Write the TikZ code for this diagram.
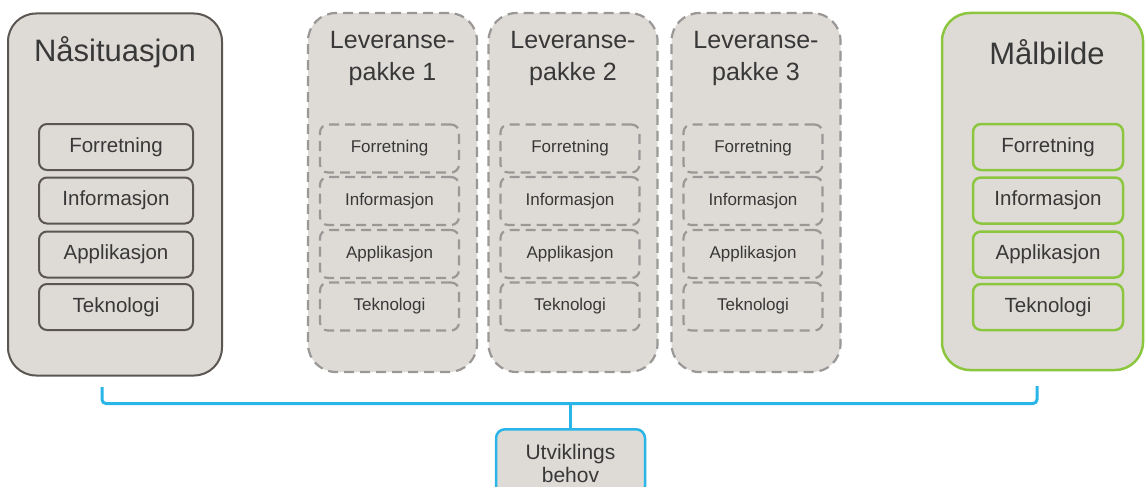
\documentclass[tikz,border=0pt]{standalone}
\usepackage{fontspec}
\setmainfont{Liberation Sans}
\definecolor{boxfill}{HTML}{DEDBD6}
\definecolor{darkline}{HTML}{5B5651}
\definecolor{dashline}{HTML}{9A9896}
\definecolor{greenline}{HTML}{8CC63F}
\definecolor{blueline}{HTML}{29B5E8}
\definecolor{txt}{HTML}{383838}
\tikzset{
  outerbox/.style={draw, fill=boxfill, rounded corners=28pt, minimum width=#1, minimum height=362pt, inner sep=0pt},
  layerbox/.style={draw, rounded corners=8pt, minimum height=46pt, inner sep=0pt, text=txt},
  dashbox/.style={draw=dashline, dash pattern=on 10pt off 6pt, line width=2.2pt},
  titletxt/.style={text=txt, align=center},
}
\begin{document}
\begin{tikzpicture}[x=1pt, y=-1pt]
\useasboundingbox (0,0) rectangle (1146,487);
\clip (0,0) rectangle (1146,487);

% Nasituasjon
\node[outerbox=214pt, draw=darkline, line width=2pt] (now) at (115,194.5) {};
\node[titletxt, font=\fontsize{31}{36}\selectfont] (nowt) at (115,52) {Nåsituasjon};
\foreach \t/\y/\n in {Forretning/147/a, Informasjon/200.5/b, Applikasjon/254.5/c, Teknologi/307/d}{
  \node[layerbox, draw=darkline, line width=2pt, minimum width=154pt, font=\fontsize{20.5}{24}\selectfont] (now\n) at (116,\y) {\t};
}

% Leveransepakker
\foreach \i/\x in {1/392.5, 2/573, 3/756}{
  \node[outerbox=169pt, dashbox, fill=boxfill, minimum height=359pt] (lp\i) at (\x,192.5) {};
  \node[titletxt, font=\fontsize{25}{32}\selectfont] (lpt\i) at (\x,58) {Leveranse-\\pakke \i};
  \foreach \t/\y/\n in {Forretning/148.5/a, Informasjon/201/b, Applikasjon/254/c, Teknologi/306.5/d}{
    \node[layerbox, dashbox, minimum width=139pt, minimum height=48pt, font=\fontsize{17}{20}\selectfont] (lp\i\n) at (\x-3,\y) {\t};
  }
}

% Malbilde
\node[outerbox=201pt, draw=greenline, line width=2.5pt, minimum height=357pt] (goal) at (1042.5,191.5) {};
\node[titletxt, font=\fontsize{31}{36}\selectfont] (goalt) at (1047,52) {Målbilde};
\foreach \t/\y/\n in {Forretning/147/a, Informasjon/200.5/b, Applikasjon/254.5/c, Teknologi/307/d}{
  \node[layerbox, draw=greenline, line width=2.5pt, minimum width=150pt, font=\fontsize{20.5}{24}\selectfont] (goal\n) at (1048,\y) {\t};
}

% Utviklingsbehov
\node[draw=blueline, line width=2.5pt, fill=boxfill, rounded corners=9pt, minimum width=149pt, minimum height=66pt, anchor=north, inner sep=0pt] (dev) at (570.5,428) {};
\node[titletxt, font=\fontsize{21}{23}\selectfont] (devt) at (570.5,463) {Utviklings\\behov};

% bracket
\coordinate (bl) at (102,387);
\coordinate (br) at (1037,386);
\coordinate (bm) at (570.5,403.5);
\draw[blueline, line width=3pt, rounded corners=4pt] (bl) |- (bm) -| (br);
\draw[blueline, line width=3pt] (bm) -- (dev.north);
\end{tikzpicture}
\end{document}
